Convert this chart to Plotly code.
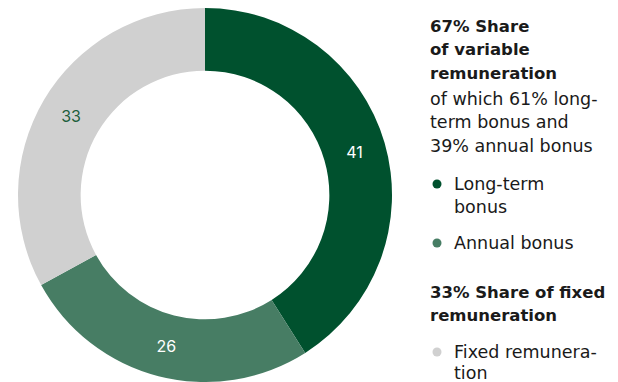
import plotly.graph_objects as go

# Remuneration split (percent)
labels = ["Long-term bonus", "Annual bonus", "Fixed remuneration"]
values = [41, 26, 33]
colors = ["#00512e", "#477d64", "#d0d0d0"]
text_colors = ["#ffffff", "#ffffff", "#1d5e3c"]

W, H = 618, 382
FONT = "DejaVu Sans, sans-serif"
TXT = "#1a1a1a"

fig = go.Figure()
fig.add_trace(go.Pie(
    labels=labels,
    values=values,
    sort=False,
    direction="clockwise",
    rotation=0,
    hole=0.665,
    marker=dict(colors=colors, line=dict(width=0)),
    textinfo="value",
    textposition="inside",
    insidetextorientation="horizontal",
    textfont=dict(family="Inter, sans-serif", size=16, color=text_colors),
    domain=dict(x=[18 / W, 392 / W], y=[0, 374 / H]),
    showlegend=False,
    hoverinfo="label+percent",
))

def px_x(x):
    return x / W

def px_y(y):
    return 1 - y / H

annotations = []
shapes = []

def line(text, x, y, bold=False):
    annotations.append(dict(
        text=f"<b>{text}</b>" if bold else text,
        x=px_x(x), y=px_y(y), xref="paper", yref="paper",
        xanchor="left", yanchor="middle", showarrow=False,
        font=dict(family=FONT, size=16.5 if bold else 17.5, color=TXT),
    ))

def dot(color, x, y, r=4.5):
    shapes.append(dict(
        type="circle", xref="paper", yref="paper",
        x0=px_x(x - r), x1=px_x(x + r), y0=px_y(y + r), y1=px_y(y - r),
        fillcolor=color, line=dict(width=0),
    ))

# Variable remuneration block
line("67% Share", 428, 27, bold=True)
line("of variable", 428, 50, bold=True)
line("remuneration", 428, 73, bold=True)
line("of which 61% long-", 428, 99)
line("term bonus and", 428, 122)
line("39% annual bonus", 428, 146)

dot(colors[0], 437, 184)
line("Long-term", 452, 184)
line("bonus", 452, 207)

dot(colors[1], 437, 243)
line("Annual bonus", 452, 243)

# Fixed remuneration block
line("33% Share of fixed", 428, 292, bold=True)
line("remuneration", 428, 315, bold=True)

dot(colors[2], 437, 352)
line("Fixed remunera-", 452, 352)
line("tion", 452, 373)

fig.update_layout(
    width=W, height=H,
    margin=dict(l=0, r=0, t=0, b=0),
    paper_bgcolor="white",
    plot_bgcolor="white",
    annotations=annotations,
    shapes=shapes,
)

fig.write_html("out.html")
